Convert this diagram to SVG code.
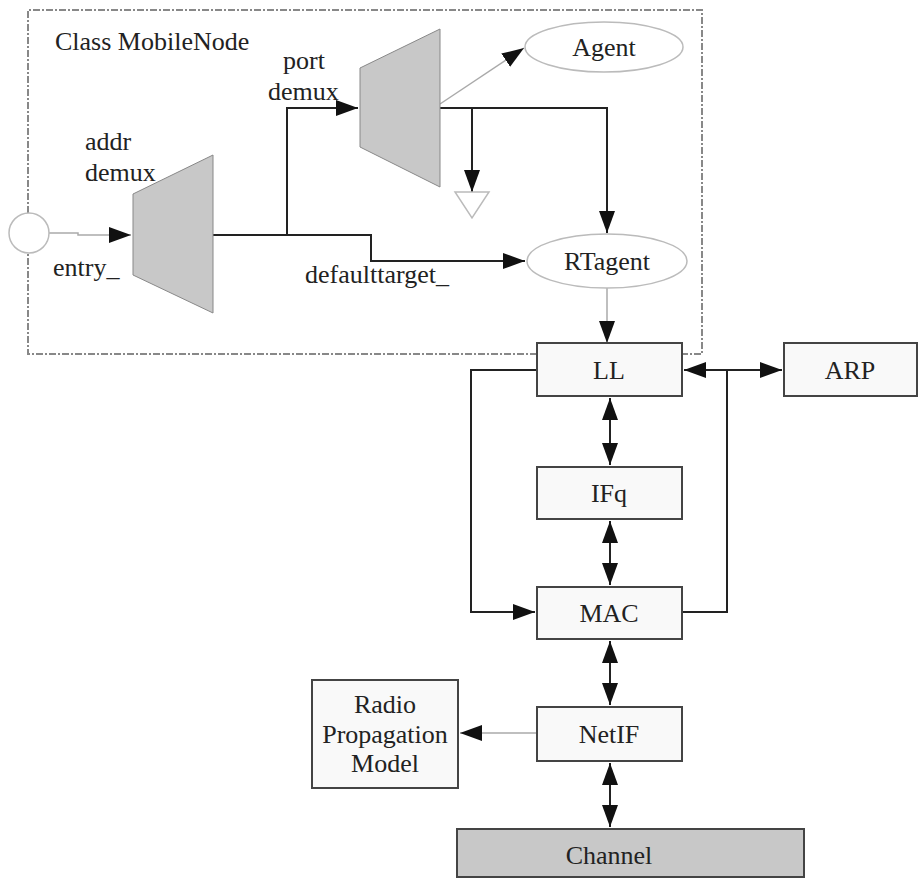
<svg xmlns="http://www.w3.org/2000/svg" width="923" height="879" viewBox="0 0 923 879">
  <style>
    text { font-family: "Liberation Serif", "Times New Roman", serif; font-size: 26px; fill: #222; }
    .mid { text-anchor: middle; }
    .box { fill: #f9f9f9; stroke: #444; stroke-width: 2; }
    .dark { fill: #c8c8c8; stroke: #888; stroke-width: 1; }
    .oval { fill: #fff; stroke: #bbb; stroke-width: 1.5; }
    .wire { fill: none; stroke: #222; stroke-width: 2; }
    .thin { fill: none; stroke: #aaa; stroke-width: 1.5; }
  </style>
  <defs>
    <marker id="arrow" markerUnits="userSpaceOnUse" markerWidth="24" markerHeight="18" refX="22" refY="8" orient="auto-start-reverse">
      <path d="M0,0 L22,8 L0,16 z" fill="#111"/>
    </marker>
  </defs>

  <rect width="923" height="879" fill="#fff"/>

  <!-- MobileNode boundary -->
  <g id="mobilenode">
    <path d="M537,354 L28,354 L28,10 L702,10 L702,354 L682,354" fill="none" stroke="#888" stroke-width="2" stroke-dasharray="7 2 2 2"/>
    <text x="55" y="50">Class MobileNode</text>
  </g>

  <!-- connectors -->
  <g id="connectors">
    <path class="thin" d="M49,233 L78,233 L78,235 L131,235" marker-end="url(#arrow)"/>
    <path class="wire" d="M213,235 L287,235 L287,108 L358,108" marker-end="url(#arrow)"/>
    <path class="wire" d="M287,235 L371,235 L371,261 L525,261" marker-end="url(#arrow)"/>
    <path class="thin" d="M440,104 L524,48" marker-end="url(#arrow)"/>
    <path class="wire" d="M440,108 L607,108 L607,233" marker-end="url(#arrow)"/>
    <path class="wire" d="M472,108 L472,192" marker-end="url(#arrow)"/>
    <path class="thin" d="M607,288 L607,343" marker-end="url(#arrow)"/>
    <path class="wire" d="M684,370 L782,370" marker-start="url(#arrow)" marker-end="url(#arrow)"/>
    <path class="wire" d="M537,370 L471,370 L471,612 L535,612" marker-end="url(#arrow)"/>
    <path class="wire" d="M682,612 L727,612 L727,370"/>
    <path class="wire" d="M610,398 L610,465" marker-start="url(#arrow)" marker-end="url(#arrow)"/>
    <path class="wire" d="M610,521 L610,585" marker-start="url(#arrow)" marker-end="url(#arrow)"/>
    <path class="wire" d="M610,641 L610,705" marker-start="url(#arrow)" marker-end="url(#arrow)"/>
    <path class="wire" d="M610,763 L610,827" marker-start="url(#arrow)" marker-end="url(#arrow)"/>
    <path class="thin" d="M537,733 L460,733" marker-end="url(#arrow)"/>
  </g>

  <g id="entry">
    <circle cx="29" cy="233" r="20" fill="#fff" stroke="#bbb" stroke-width="1.5"/>
    <text x="53" y="276">entry_</text>
  </g>

  <g id="addr-demux">
    <polygon class="dark" points="133,194 213,155 213,313 133,275"/>
    <text x="85" y="150">addr</text>
    <text x="85" y="181">demux</text>
  </g>

  <g id="port-demux">
    <polygon class="dark" points="360,68 440,29 440,187 360,147"/>
    <text x="283" y="69">port</text>
    <text x="268" y="100">demux</text>
  </g>

  <g id="sink">
    <polygon points="455,192 489,192 472,218" fill="#fff" stroke="#bbb" stroke-width="1.5"/>
  </g>

  <g id="agent">
    <ellipse class="oval" cx="604" cy="47" rx="79" ry="25"/>
    <text class="mid" x="604" y="56">Agent</text>
  </g>

  <g id="rtagent">
    <ellipse class="oval" cx="607" cy="261" rx="80" ry="27"/>
    <text class="mid" x="607" y="270">RTagent</text>
  </g>

  <text x="305" y="283">defaulttarget_</text>

  <g id="ll">
    <rect class="box" x="537" y="343" width="145" height="53"/>
    <text class="mid" x="609" y="379">LL</text>
  </g>

  <g id="arp">
    <rect class="box" x="784" y="343" width="133" height="53"/>
    <text class="mid" x="850" y="379">ARP</text>
  </g>

  <g id="ifq">
    <rect class="box" x="537" y="467" width="145" height="52"/>
    <text class="mid" x="609" y="502">IFq</text>
  </g>

  <g id="mac">
    <rect class="box" x="537" y="587" width="145" height="52"/>
    <text class="mid" x="609" y="622">MAC</text>
  </g>

  <g id="netif">
    <rect class="box" x="537" y="707" width="145" height="54"/>
    <text class="mid" x="609" y="743">NetIF</text>
  </g>

  <g id="radio">
    <rect class="box" x="312" y="680" width="146" height="108" stroke="#777"/>
    <text class="mid" x="385" y="713">Radio</text>
    <text class="mid" x="385" y="743">Propagation</text>
    <text class="mid" x="385" y="772">Model</text>
  </g>

  <g id="channel">
    <rect x="457" y="829" width="347" height="48" fill="#c8c8c8" stroke="#444" stroke-width="2"/>
    <text class="mid" x="609" y="864">Channel</text>
  </g>
</svg>
